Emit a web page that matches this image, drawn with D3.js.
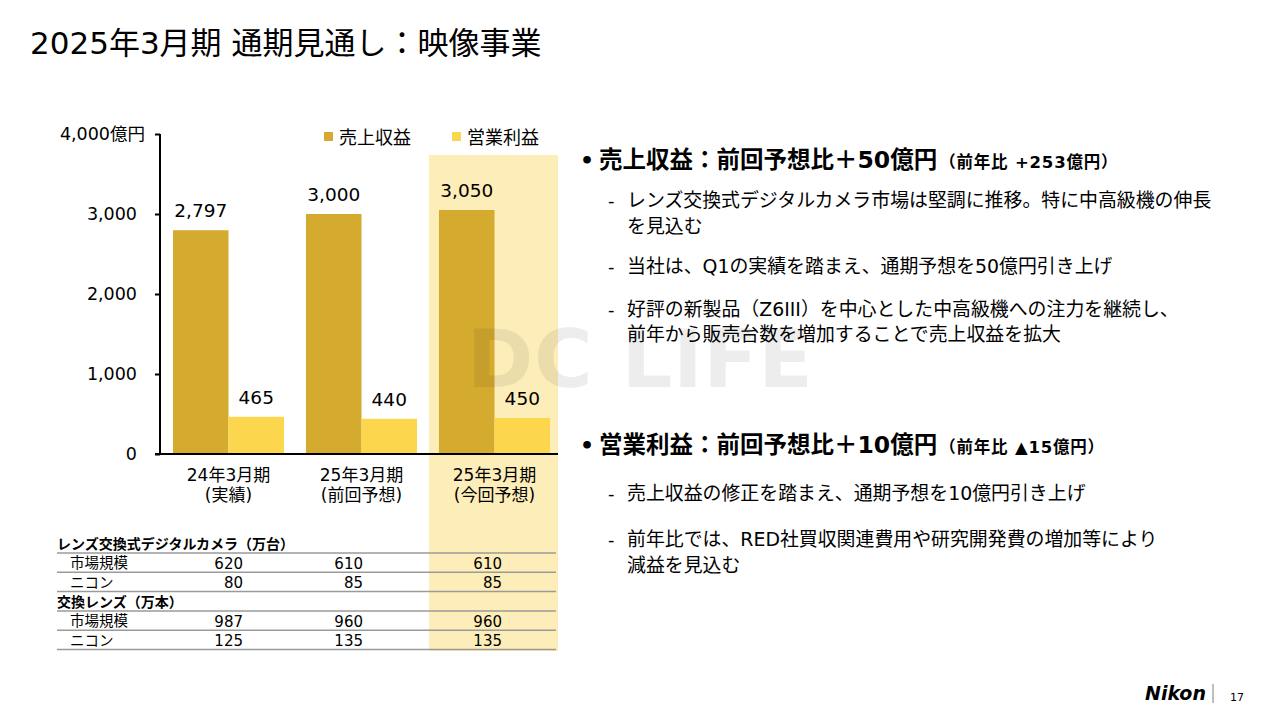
<!DOCTYPE html>
<html><head><meta charset="utf-8">
<script src="https://cdn.jsdelivr.net/npm/d3@7"></script>
<style>
html,body{margin:0;padding:0;background:#fff;}
svg{display:block;}
text{font-family:"DejaVu Sans","Noto Sans CJK JP",sans-serif;fill:#000;}
.jp{font-family:"Noto Sans CJK JP","DejaVu Sans",sans-serif;}
</style></head>
<body>
<svg id="c" width="1278" height="718"></svg>
<script>
// ---- data ----
const categories = ["24年3月期", "25年3月期", "25年3月期"];
const categorySub = ["(実績)", "(前回予想)", "(今回予想)"];
const seriesNames = ["売上収益", "営業利益"];
const revenue = [2797, 3000, 3050];
const opProfit = [465, 440, 450];
const yTicks = [0, 1000, 2000, 3000, 4000];
const yUnit = "億円";

const tableSections = ["レンズ交換式デジタルカメラ（万台）", "交換レンズ（万本）"];
const tableRowLabels = ["市場規模", "ニコン"];
const cameraMarket = [620, 610, 610];
const cameraNikon = [80, 85, 85];
const lensMarket = [987, 960, 960];
const lensNikon = [125, 135, 135];

const title = "2025年3月期 通期見通し：映像事業";
const bullet1 = ["売上収益：前回予想比＋50億円", "（前年比 +253億円）"];
const bullet1Items = [
  ["レンズ交換式デジタルカメラ市場は堅調に推移。特に中高級機の伸長", "を見込む"],
  ["当社は、Q1の実績を踏まえ、通期予想を50億円引き上げ"],
  ["好評の新製品（Z6III）を中心とした中高級機への注力を継続し、", "前年から販売台数を増加することで売上収益を拡大"]
];
const bullet2 = ["営業利益：前回予想比＋10億円", "（前年比 ▲15億円）"];
const bullet2Items = [
  ["売上収益の修正を踏まえ、通期予想を10億円引き上げ"],
  ["前年比では、RED社買収関連費用や研究開発費の増加等により", "減益を見込む"]
];
const pageNo = "17";

// ---- drawing ----
const colors = ["#D4AA2F", "#FCD64C"];
const bandColor = "#FDEDB8";
const svg = d3.select("#c");

const x0 = d3.scaleBand().domain(d3.range(categories.length)).range([161, 562]).paddingInner(0.165).paddingOuter(0.09);
const x1 = d3.scaleBand().domain(d3.range(2)).range([0, x0.bandwidth()]);
const y = d3.scaleLinear().domain([0, 4000]).range([454, 134]);

// highlight band for current forecast
const hi = 2;
const bandX0 = x0(hi) - 10;
const bandX1 = 558;
svg.append("rect").attr("x", bandX0).attr("y", 155).attr("width", bandX1 - bandX0).attr("height", 651 - 155).attr("fill", bandColor);

// title
svg.append("text").attr("x", 30).attr("y", 54).attr("font-size", 31).text(title);

// bars
const g = svg.append("g");
categories.forEach((c, i) => {
  [revenue[i], opProfit[i]].forEach((v, j) => {
    g.append("rect").attr("x", x0(i) + x1(j)).attr("y", y(v)).attr("width", x1.bandwidth()).attr("height", y(0) - y(v)).attr("fill", colors[j]);
    g.append("text").attr("x", x0(i) + x1(j) + x1.bandwidth() / 2).attr("y", y(v) - 13)
      .attr("text-anchor", "middle").attr("font-size", 18.5).text(d3.format(",")(v));
  });
  const cx = x0(i) + x0.bandwidth() / 2;
  g.append("text").attr("x", cx).attr("y", 481).attr("text-anchor", "middle").attr("font-size", 17).text(c);
  g.append("text").attr("x", cx).attr("y", 501).attr("text-anchor", "middle").attr("font-size", 17).text(categorySub[i]);
});

// y axis
const yAxis = d3.axisLeft(y).tickValues(yTicks).tickSize(5).tickPadding(18)
  .tickFormat(d => d3.format(",")(d));
const ag = svg.append("g").attr("transform", "translate(160,0)").call(yAxis);
ag.select(".domain").attr("stroke", "#000").attr("stroke-width", 2).attr("d", `M0,${y(4000)}V${y(0)}`);
ag.selectAll(".tick line").attr("stroke", "#000").attr("stroke-width", 2);
ag.selectAll(".tick text").attr("font-size", 17.5).attr("font-family", null).attr("fill", "#000");
ag.selectAll(".tick").filter(d => d === 4000).select("text").attr("x", -15).text(d3.format(",")(4000) + yUnit);
// baseline
svg.append("line").attr("x1", 155).attr("x2", 558).attr("y1", y(0)).attr("y2", y(0)).attr("stroke", "#000").attr("stroke-width", 2);

// legend
const legX = [324, 452];
seriesNames.forEach((s, j) => {
  svg.append("rect").attr("x", legX[j]).attr("y", 132).attr("width", 9).attr("height", 9).attr("fill", colors[j]);
  svg.append("text").attr("class", "jp").attr("x", legX[j] + 15).attr("y", 144).attr("font-size", 18).text(s);
});

// table
const colRight = [243, 363, 502];
const rows = [
  {type: "h", label: tableSections[0]},
  {type: "r", label: tableRowLabels[0], vals: cameraMarket},
  {type: "r", label: tableRowLabels[1], vals: cameraNikon},
  {type: "h", label: tableSections[1]},
  {type: "r", label: tableRowLabels[0], vals: lensMarket},
  {type: "r", label: tableRowLabels[1], vals: lensNikon}
];
const rowY = d3.scaleLinear().domain([0, 5]).range([544, 640.5]);
rows.forEach((r, i) => {
  const cy = rowY(i);
  if (r.type === "h") {
    svg.append("text").attr("class", "jp").attr("x", 57).attr("y", cy + 5).attr("font-size", 14).attr("font-weight", "bold").text(r.label);
  } else {
    svg.append("text").attr("class", "jp").attr("x", 70).attr("y", cy + 5).attr("font-size", 14.5).text(r.label);
    r.vals.forEach((v, k) => {
      svg.append("text").attr("x", colRight[k]).attr("y", cy + 5.5).attr("text-anchor", "end").attr("font-size", 15).text(v);
    });
  }
  svg.append("line").attr("x1", 57).attr("x2", 556).attr("y1", cy + 9).attr("y2", cy + 9).attr("stroke", "#9a9a9a").attr("stroke-width", 1.5);
});

// right text
function bulletBlock(head, items, hy, itemYs) {
  svg.append("text").attr("x", 580).attr("y", hy).attr("font-size", 22).attr("font-weight", "bold").text("•");
  const t = svg.append("text").attr("x", 599).attr("y", hy).attr("font-weight", "bold");
  t.append("tspan").attr("font-size", 23.5).text(head[0]);
  t.append("tspan").attr("font-size", 16.5).attr("dx", 2).attr("letter-spacing", 0.8).text(head[1]);
  let k = 0;
  items.forEach(lines => {
    svg.append("text").attr("x", 608).attr("y", itemYs[k]).attr("font-size", 18).text("-");
    lines.forEach(l => {
      svg.append("text").attr("x", 627).attr("y", itemYs[k]).attr("font-size", 18.9).text(l);
      k++;
    });
  });
}
bulletBlock(bullet1, bullet1Items, 168, [207, 233, 273, 316, 341]);
bulletBlock(bullet2, bullet2Items, 453, [500, 546, 572]);

// watermark
svg.append("text").attr("x", 467).attr("y", 387).attr("font-family", "Liberation Sans, Arial, sans-serif")
  .attr("font-weight", "bold").attr("font-size", 80).attr("textLength", 346).attr("lengthAdjust", "spacing")
  .style("fill", "rgba(0,0,0,0.07)").text("DC LIFE");

// footer
svg.append("text").attr("x", 1145).attr("y", 700).attr("font-family", "Liberation Sans, Arial, sans-serif")
  .attr("font-weight", "bold").attr("font-style", "italic").attr("font-size", 19).text("Nikon");
svg.append("line").attr("x1", 1213).attr("x2", 1213).attr("y1", 684).attr("y2", 703).attr("stroke", "#aaa").attr("stroke-width", 1.5);
svg.append("text").attr("x", 1230).attr("y", 701).attr("font-size", 11).text(pageNo);
</script>
</body></html>
